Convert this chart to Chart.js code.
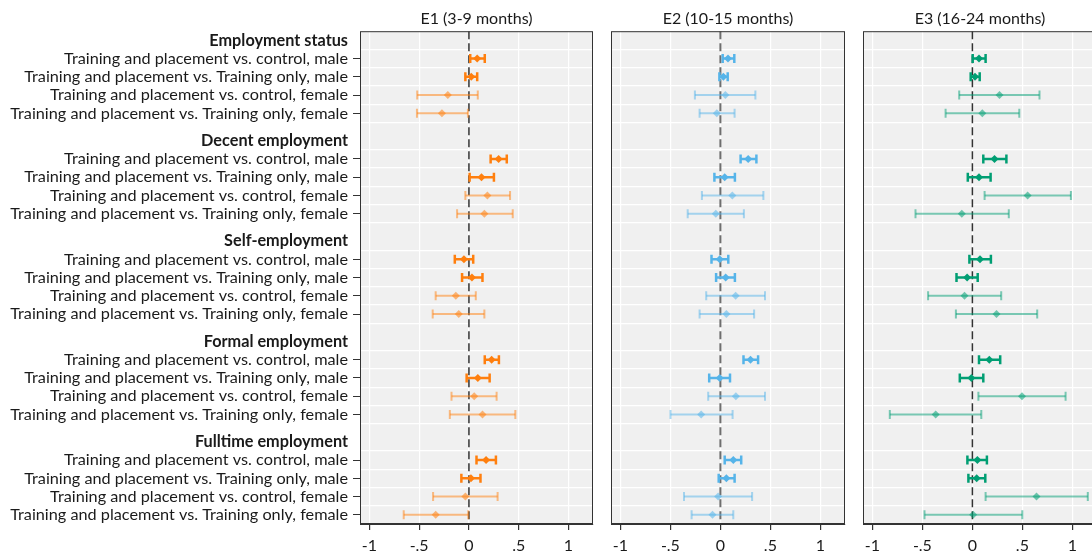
<!DOCTYPE html>
<html>
<head>
<meta charset="utf-8">
<script src="https://cdn.jsdelivr.net/npm/chart.js@4"></script>
<style>
  html, body { margin: 0; padding: 0; background: #fff; overflow: hidden; width: 1092px; height: 553px; }
  .panel { position: absolute; top: 0; height: 553px; }
  #p1 { left: 0; width: 600px; }
  #p2 { left: 600px; width: 252px; }
  #p3 { left: 852px; width: 252px; }
</style>
</head>
<body>
<div class="panel" id="p1"><canvas id="c1"></canvas></div>
<div class="panel" id="p2"><canvas id="c2"></canvas></div>
<div class="panel" id="p3"><canvas id="c3"></canvas></div>
<script>
const outcomes = ["Employment status", "Decent employment", "Self-employment", "Formal employment", "Fulltime employment"];
const comparisons = [
  "Training and placement vs. control, male",
  "Training and placement vs. Training only, male",
  "Training and placement vs. control, female",
  "Training and placement vs. Training only, female"
];
const periods = ["E1 (3-9 months)", "E2 (10-15 months)", "E3 (16-24 months)"];
const xTicks = [-1, -0.5, 0, 0.5, 1];
const xTickLabels = ["-1", "-.5", "0", ".5", "1"];

// 20 rows per panel: outcome by outcome, 4 comparisons each
const e1Coef  = [0.083, 0.023, -0.212, -0.271, 0.298, 0.126, 0.185, 0.155, -0.050, 0.030, -0.132, -0.102, 0.228, 0.089, 0.053, 0.136, 0.172, 0.020, -0.036, -0.334];
const e1Lower = [0.013, -0.036, -0.519, -0.522, 0.218, 0.007, -0.036, -0.119, -0.142, -0.069, -0.334, -0.364, 0.159, -0.023, -0.175, -0.192, 0.076, -0.076, -0.360, -0.655];
const e1Upper = [0.159, 0.083, 0.089, -0.010, 0.380, 0.251, 0.413, 0.440, 0.043, 0.136, 0.069, 0.155, 0.301, 0.208, 0.278, 0.466, 0.271, 0.116, 0.288, -0.007];

const e2Coef  = [0.076, 0.030, 0.050, -0.036, 0.278, 0.043, 0.119, -0.046, -0.007, 0.053, 0.152, 0.060, 0.301, -0.007, 0.155, -0.192, 0.129, 0.060, -0.023, -0.079];
const e2Lower = [0.023, -0.010, -0.255, -0.208, 0.202, -0.060, -0.185, -0.327, -0.089, -0.043, -0.142, -0.208, 0.231, -0.112, -0.122, -0.499, 0.043, -0.017, -0.364, -0.288];
const e2Upper = [0.139, 0.073, 0.350, 0.142, 0.360, 0.145, 0.430, 0.235, 0.079, 0.145, 0.446, 0.337, 0.377, 0.096, 0.446, 0.122, 0.208, 0.142, 0.317, 0.129];

const e3Coef  = [0.066, 0.026, 0.271, 0.099, 0.221, 0.066, 0.552, -0.106, 0.076, -0.053, -0.079, 0.241, 0.169, -0.010, 0.496, -0.367, 0.050, 0.043, 0.641, 0.007];
const e3Lower = [0.003, -0.017, -0.132, -0.268, 0.109, -0.046, 0.122, -0.569, -0.030, -0.159, -0.443, -0.165, 0.066, -0.126, 0.060, -0.826, -0.050, -0.040, 0.132, -0.479];
const e3Upper = [0.132, 0.073, 0.671, 0.469, 0.340, 0.182, 0.985, 0.364, 0.185, 0.053, 0.288, 0.648, 0.278, 0.109, 0.932, 0.089, 0.145, 0.129, 1.154, 0.499];

const panelColors = [[255, 127, 14], [86, 180, 233], [0, 158, 115]];
const zeroLineColors = ["#333333", "#6e6e6e", "#333333"];

const fonte = "Lato, 'Open Sans', sans-serif";
const corTexto = "#1a1a1a";

// y positions: header, then its 4 rows, groups 5.5 apart
const headerPos = outcomes.map((o, g) => g * 5.5);
const rowPos = [];
outcomes.forEach((o, g) => {
  comparisons.forEach((c, k) => {
    rowPos.push(headerPos[g] + k + 1);
  });
});

const yTicks = [];
const yLabels = [];
const yIsHeader = [];
outcomes.forEach((o, g) => {
  yTicks.push(headerPos[g]); yLabels.push(o); yIsHeader.push(true);
  for (let k = 0; k < 4; k++) {
    yTicks.push(headerPos[g] + k + 1); yLabels.push(comparisons[k]); yIsHeader.push(false);
  }
});

const gridPos = [];
headerPos.forEach((h) => {
  for (let k = 0; k < 5; k++) gridPos.push(h + k + 0.5);
});

function cor(rgb, alpha) {
  return `rgba(${rgb[0]},${rgb[1]},${rgb[2]},${alpha})`;
}

const fundoPlot = {
  id: "fundoPlot",
  beforeDraw(chart) {
    const a = chart.chartArea;
    const ctx = chart.ctx;
    ctx.save();
    ctx.fillStyle = "#f0f0f0";
    ctx.fillRect(a.left, a.top, a.right - a.left, a.bottom - a.top);
    ctx.restore();
  },
  afterDraw(chart) {
    const a = chart.chartArea;
    const ctx = chart.ctx;
    ctx.save();
    ctx.strokeStyle = "#333";
    ctx.lineWidth = 1;
    ctx.strokeRect(a.left + 0.5, a.top + 0.5, a.right - a.left - 1, a.bottom - a.top - 1);
    ctx.restore();
  }
};

function criarPainel(canvasId, p, coef, lower, upper, padLeft, padRight) {
  const rgb = panelColors[p];
  const showLabels = p === 0;
  const datasets = [];

  datasets.push({
    type: "scatter",
    data: coef.map((c, i) => ({ x: c, y: rowPos[i] })),
    pointStyle: "rectRot",
    pointRadius: 4,
    pointBackgroundColor: coef.map((c, i) => (i % 4 < 2 ? cor(rgb, 1) : cor(rgb, 0.55))),
    pointBorderWidth: 0,
  });

  coef.forEach((c, i) => {
    const male = i % 4 < 2;
    const col = male ? cor(rgb, 1) : cor(rgb, 0.5);
    datasets.push({
      type: "line",
      data: [{ x: lower[i], y: rowPos[i] }, { x: upper[i], y: rowPos[i] }],
      borderColor: col,
      borderWidth: male ? 2.5 : 2,
      pointStyle: "line",
      rotation: 90,
      pointRadius: 4.5,
      pointBorderColor: col,
      pointBorderWidth: male ? 2.5 : 2,
      pointHoverRadius: 4.5,
    });
  });

  datasets.push({
    type: "line",
    data: [{ x: 0, y: -0.5 }, { x: 0, y: 26.5 }],
    borderColor: zeroLineColors[p],
    borderWidth: p === 1 ? 2 : 1.5,
    borderDash: [8, 4],
    pointRadius: 0,
  });

  return new Chart(document.getElementById(canvasId), {
    type: "scatter",
    data: { datasets: datasets },
    options: {
      responsive: true,
      maintainAspectRatio: false,
      animation: false,
      layout: { padding: { left: padLeft, right: padRight, top: 0, bottom: 0 } },
      plugins: {
        legend: { display: false },
        tooltip: { enabled: false },
        title: {
          display: true,
          text: periods[p],
          fullSize: false,
          color: corTexto,
          font: { family: fonte, size: 16, weight: "normal" },
          padding: { top: 9, bottom: 3 },
        },
      },
      scales: {
        x: {
          type: "linear",
          min: -1.094,
          max: 1.246,
          afterBuildTicks: (s) => { s.ticks = xTicks.map((v) => ({ value: v })); },
          afterFit: (s) => { s.height = 29; },
          ticks: {
            callback: (v) => xTickLabels[xTicks.indexOf(v)],
            color: corTexto,
            font: { family: fonte, size: 16 },
            padding: 6,
            autoSkip: false,
            maxRotation: 0,
          },
          grid: { color: "#ffffff", lineWidth: 1.2, tickColor: "#333", tickLength: 6 },
          border: { display: true, color: "#333" },
        },
        y: {
          type: "linear",
          reverse: true,
          min: -0.5,
          max: 26.5,
          display: showLabels,
          afterBuildTicks: (s) => { s.ticks = yTicks.map((v) => ({ value: v })); },
          afterFit: (s) => { if (showLabels) s.width = 360; },
          ticks: {
            callback: (v) => yLabels[yTicks.indexOf(v)],
            color: corTexto,
            font: (ctx) => ({
              family: fonte,
              size: 16.25,
              weight: yIsHeader[ctx.index] ? "bold" : "normal",
            }),
            padding: 5,
            autoSkip: false,
          },
          grid: {
            drawOnChartArea: false,
            tickColor: (ctx) => (yIsHeader[ctx.index] ? "rgba(0,0,0,0)" : "#333"),
            tickLength: 7,
          },
          border: { display: false },
        },
        yg: {
          type: "linear",
          reverse: true,
          min: -0.5,
          max: 26.5,
          position: "right",
          afterBuildTicks: (s) => { s.ticks = gridPos.map((v) => ({ value: v })); },
          afterFit: (s) => { s.width = 0; },
          ticks: { display: false },
          grid: { color: "#ffffff", lineWidth: 1.2, drawTicks: false },
          border: { display: false },
        },
      },
    },
    plugins: [fundoPlot],
  });
}

criarPainel("c1", 0, e1Coef, e1Lower, e1Upper, 0, 1);
criarPainel("c2", 1, e2Coef, e2Lower, e2Upper, 11, 1);
criarPainel("c3", 2, e3Coef, e3Lower, e3Upper, 11, 2);
</script>
</body>
</html>
